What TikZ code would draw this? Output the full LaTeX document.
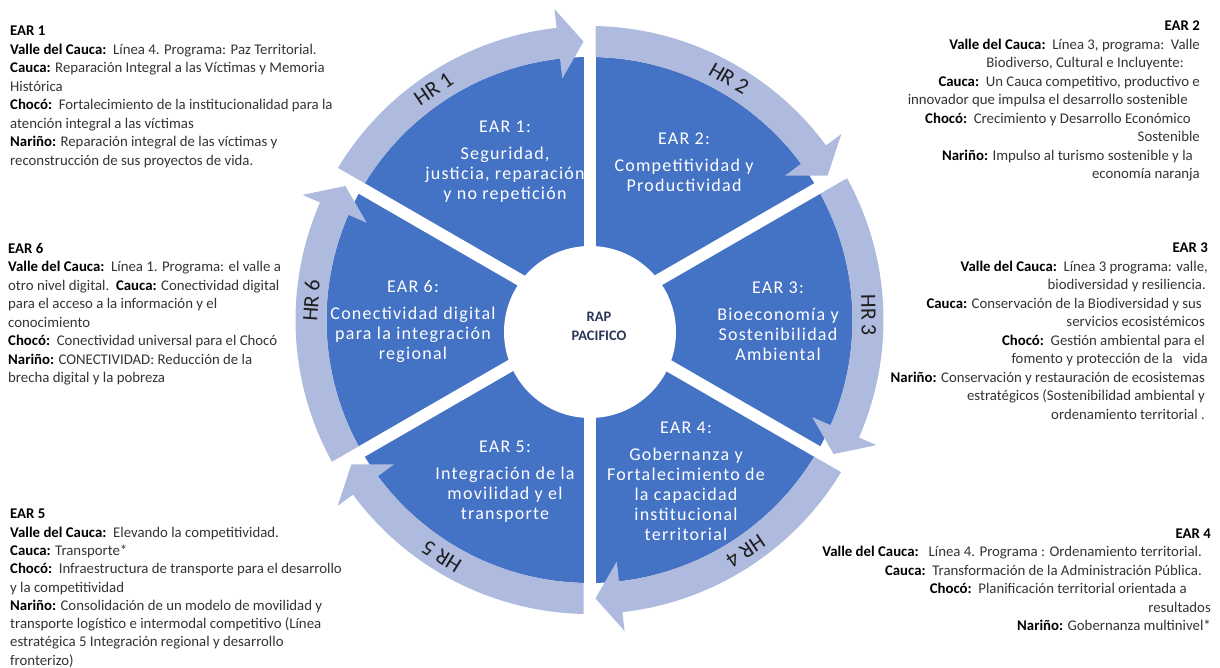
\documentclass[tikz,border=0pt]{standalone}
\usepackage{fontspec}
\setmainfont{Carlito}
\newfontfamily\secfont{Carlito}[LetterSpace=7]
\usetikzlibrary{calc}
\definecolor{secblue}{RGB}{68,114,196}
\definecolor{ringblue}{RGB}{174,187,223}
\definecolor{bodytxt}{RGB}{52,52,52}
\definecolor{raptxt}{RGB}{42,54,88}
\definecolor{hrtxt}{RGB}{30,30,30}
\newcommand{\lab}[1]{\textbf{\color{black}#1}}
\newcommand{\secclip}[2]{\clip (C) -- ($(C)+(#1:300pt)$) arc[start angle=#1, end angle=#2, radius=300pt] -- cycle;}
\begin{document}
\begin{tikzpicture}[x=1pt,y=1pt,
  sidebox/.style={inner sep=0pt, font=\fontsize{14.8}{18.5}\selectfont, text=bodytxt},
  leftbox/.style={sidebox, align=left, anchor=north west},
  rightbox/.style={sidebox, align=right, anchor=north east},
  sectxt/.style={inner sep=0pt, text=white, align=center, font=\secfont\fontsize{18}{20}\selectfont},
  hrlab/.style={inner sep=0pt, text=hrtxt, font=\fontsize{22}{24}\selectfont},
]
\fill[white] (0,0) rectangle (1220,667);
\useasboundingbox (0,0) rectangle (1220,667);
\coordinate (C) at (589.5,347);

% sectors
\fill[secblue] (C) circle[radius=263pt];

\begin{scope}\secclip{90}{150}
\node[sectxt] (s1) at (505,505.5) {EAR 1:\\[7pt]Seguridad,\\justicia, reparación\\y no repetición};
\end{scope}
\begin{scope}\secclip{30}{90}
\node[sectxt] (s2) at (684,504.5) {EAR 2:\\[7pt]Competitividad y\\Productividad};
\end{scope}
\begin{scope}\secclip{-30}{30}
\node[sectxt] (s3) at (778,346) {EAR 3:\\[7pt]Bioeconomía y\\Sostenibilidad\\Ambiental};
\end{scope}
\begin{scope}\secclip{-90}{-30}
\node[sectxt] (s4) at (686,185.5) {EAR 4:\\[7pt]Gobernanza y\\Fortalecimiento de\\la capacidad\\institucional\\territorial};
\end{scope}
\begin{scope}\secclip{210}{270}
\node[sectxt] (s5) at (505,185.5) {EAR 5:\\[7pt]Integración de la\\movilidad y el\\transporte};
\end{scope}
\begin{scope}\secclip{150}{210}
\node[sectxt] (s6) at (413,346) {EAR 6:\\[7pt]Conectividad digital\\para la integración\\regional};
\end{scope}

% gaps
\foreach \g in {90,30,150}{
  \draw[white, line width=12pt] ($(C)+(\g:266pt)$) -- ($(C)+(\g+180:266pt)$);
}

% centre
\node[circle, fill=white, minimum size=172pt, inner sep=0pt] (core) at (590,335) {};
\node[inner sep=0pt, align=center, text=raptxt, font=\bfseries\fontsize{14.5}{18.7}\selectfont] (rap) at (599,340.3) {RAP\\PACIFICO};

% ring arrows
\foreach \a in {150,90,30,-30,-90,-150}{
  \pgfmathsetmacro{\angA}{\a-asin(6/294)}
  \pgfmathsetmacro{\angB}{\a-asin(6/263)}
  \pgfmathsetmacro{\angT}{\a-60+asin(6/278.5)}
  \pgfmathsetmacro{\angH}{\angT+5.2}
  \fill[ringblue] ($(C)+(\angA:294pt)$) arc[start angle=\angA, end angle=\angH, radius=294pt]
    -- ($(C)+(\angH:313pt)$) -- ($(C)+(\angT:278.5pt)$) -- ($(C)+(\angH:243pt)$)
    -- ($(C)+(\angH:263pt)$) arc[start angle=\angH, end angle=\angB, radius=263pt] -- cycle;
}

\node[hrlab, rotate=34] (hr1) at ($(C)+(124:279pt)$) {HR 1};
\node[hrlab, rotate=-30] (hr2) at ($(C)+(60:279pt)$) {HR 2};
\node[hrlab, rotate=-89] (hr3) at ($(C)+(1:279pt)$) {HR 3};
\node[hrlab, rotate=-146] (hr4) at ($(C)+(-56:279pt)$) {HR 4};
\node[hrlab, rotate=148] (hr5) at ($(C)+(238:279pt)$) {HR 5};
\node[hrlab, rotate=86] (hr6) at ($(C)+(176:279pt)$) {HR 6};

% side texts
\node[leftbox] (t1) at (10,641) {\lab{EAR 1}\\
\lab{Valle del Cauca:}~~Línea 4. Programa: Paz Territorial.\\
\lab{Cauca:} Reparación Integral a las Víctimas y Memoria\\
Histórica\\
\lab{Chocó:}~~Fortalecimiento de la institucionalidad para la\\
atención integral a las víctimas\\
\lab{Nariño:} Reparación integral de las víctimas y\\
reconstrucción de sus proyectos de vida.};

\node[rightbox] (t2) at (1200,646.3) {\lab{EAR 2}\\
\lab{Valle del Cauca:}~~Línea 3, programa:~~Valle\\
Biodiverso, Cultural e Incluyente:\kern16pt\\
\lab{Cauca:}~~Un Cauca competitivo, productivo e\\
innovador que impulsa el desarrollo sostenible\kern12pt\\
\lab{Chocó:}~~Crecimiento y Desarrollo Económico\kern9pt\\
Sostenible\\
\lab{Nariño:} Impulso al turismo sostenible y la\kern7pt\\
economía naranja};

\node[rightbox] (t3) at (1208,424.3) {\lab{EAR 3}\\
\lab{Valle del Cauca:}~~Línea 3 programa: valle,\\
biodiversidad y resiliencia.\kern2pt\\
\lab{Cauca:} Conservación de la Biodiversidad y sus\kern6pt\\
servicios ecosistémicos\kern3pt\\
\lab{Chocó:}~~Gestión ambiental para el\kern3pt\\
fomento y protección de la~~~vida\\
\lab{Nariño:} Conservación y restauración de ecosistemas\kern3pt\\
estratégicos (Sostenibilidad ambiental y\kern3pt\\
ordenamiento territorial .\kern3pt};

\node[rightbox] (t4) at (1211,138.7) {\lab{EAR 4}\\
\lab{Valle del Cauca:}~~~Línea 4. Programa : Ordenamiento territorial.\kern9pt\\
\lab{Cauca:}~~Transformación de la Administración Pública.\kern9pt\\
\lab{Chocó:}~~Planificación territorial orientada a\kern24pt\\
resultados\\
\lab{Nariño:} Gobernanza multinivel*};

\node[leftbox, font=\fontsize{14.8}{18.3}\selectfont] (t5) at (10,158) {\lab{EAR 5}\\
\lab{Valle del Cauca:}~~Elevando la competitividad.\\
\lab{Cauca:} Transporte*\\
\lab{Chocó:}~~Infraestructura de transporte para el desarrollo\\
y la competitividad\\
\lab{Nariño:} Consolidación de un modelo de movilidad y\\
transporte logístico e intermodal competitivo (Línea\\
estratégica 5 Integración regional y desarrollo\\
fronterizo)};

\node[leftbox] (t6) at (8,424.3) {\lab{EAR 6}\\
\lab{Valle del Cauca:}~~Línea 1. Programa: el valle a\\
otro nivel digital.~~\lab{Cauca:} Conectividad digital\\
para el acceso a la información y el\\
conocimiento\\
\lab{Chocó:}~~Conectividad universal para el Chocó\\
\lab{Nariño:} CONECTIVIDAD: Reducción de la\\
brecha digital y la pobreza};
\end{tikzpicture}
\end{document}
